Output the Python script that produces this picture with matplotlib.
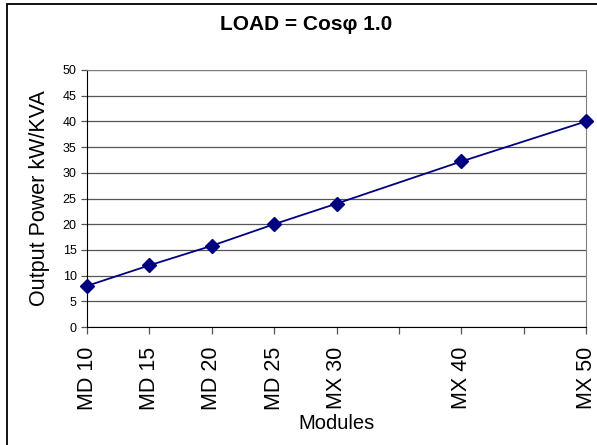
import matplotlib.pyplot as plt
from matplotlib.patches import Rectangle

plt.rcParams['font.family'] = ['Liberation Sans', 'DejaVu Sans']

# modules and output power
modules = ["MD 10", "MD 15", "MD 20", "MD 25", "MX 30", "MX 40", "MX 50"]
kva = [10, 15, 20, 25, 30, 40, 50]
power = [8, 12, 15.8, 20, 24, 32.2, 40]

fig = plt.figure(figsize=(5.97, 4.45), dpi=100)
ax = fig.add_axes([87/597, 1-327/445, (586-87)/597, (327-70)/445])

# outer chart frame (cut at right and bottom edges)
fig.patches.append(Rectangle((7/597, -0.1), 1.2, 1 - 4/445 + 0.1,
                             transform=fig.transFigure, fill=False,
                             edgecolor='black', linewidth=1.3))

ax.set_xlim(10, 50)
ax.set_ylim(0, 50)
ax.set_yticks(range(0, 51, 5))
ax.yaxis.grid(True, color='#555555', linewidth=0.9)
ax.set_axisbelow(True)

ax.set_xticks(kva, minor=False)
ax.set_xticks([35, 45], minor=True)
ax.set_xticklabels(modules, rotation=90, fontsize=15.5)
ax.tick_params(axis='x', which='both', length=5, width=0.9, color='#555555',
               pad=9)
ax.tick_params(axis='y', length=4, width=0.9, labelsize=9, color='#555555')

ax.plot(kva, power, color='#000080', linewidth=1.3, marker='D',
        markersize=7.5, clip_on=False, zorder=3)

for s in ['top', 'right']:
    ax.spines[s].set_color('#808080')
for s in ['left', 'bottom']:
    ax.spines[s].set_color('black')

ax.set_ylabel("Output Power kW/KVA", fontsize=15.5, labelpad=9)
ax.set_xlabel("Modules", fontsize=14.5, labelpad=3)
fig.text(306/597, 1-25/445, "LOAD = Cosφ 1.0", ha='center', va='center',
         fontsize=15, fontweight='bold')

fig.savefig("out.png", dpi=100)
